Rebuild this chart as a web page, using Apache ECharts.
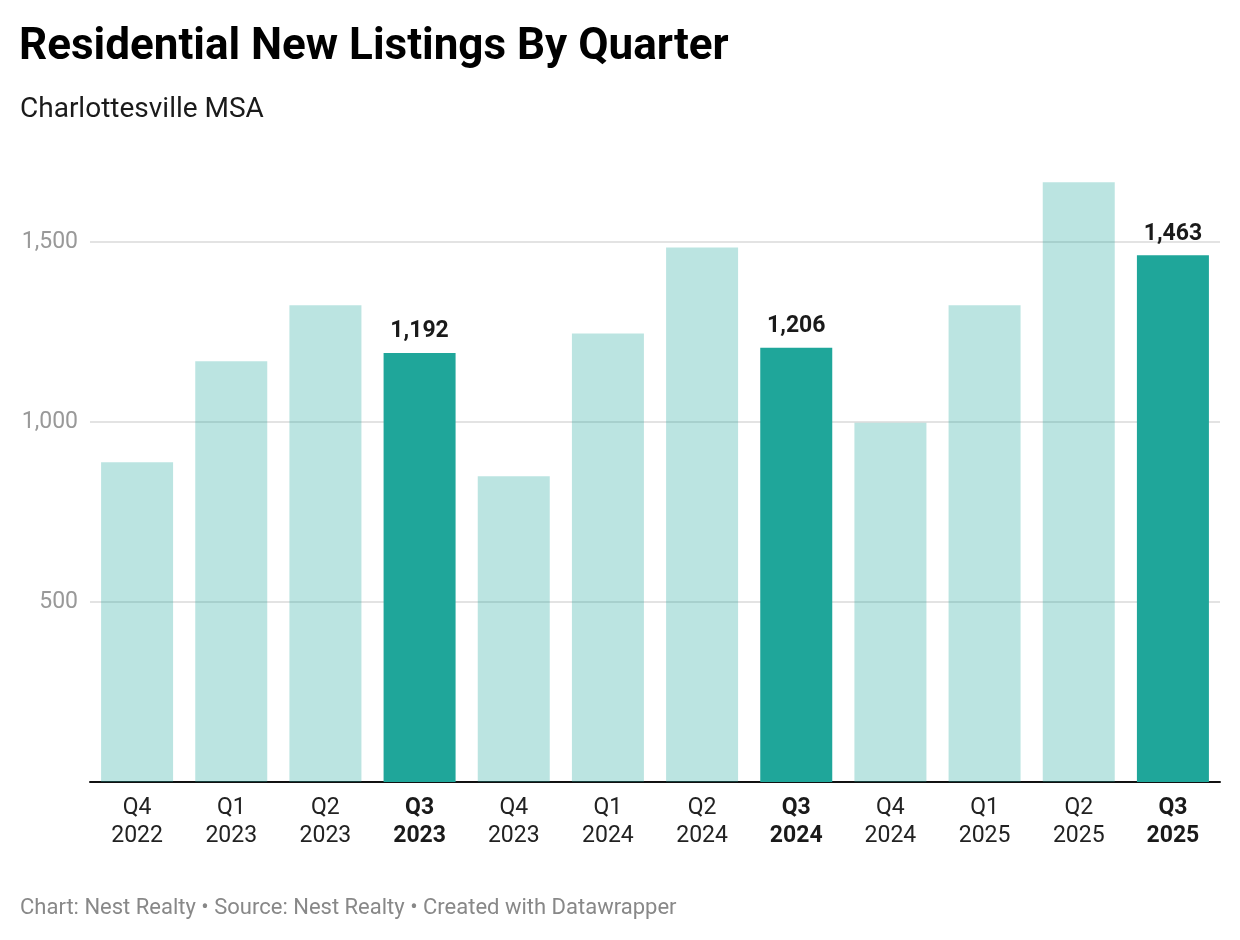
<!DOCTYPE html>
<html>
<head>
<meta charset="utf-8">
<script src="https://cdn.jsdelivr.net/npm/echarts@6/dist/echarts.min.js"></script>
<style>
  html, body { margin: 0; padding: 0; background: #fff; }
  #chart { width: 1240px; height: 940px; }
</style>
</head>
<body>
<div id="chart"></div>
<script>
const quarters = ['Q4', 'Q1', 'Q2', 'Q3', 'Q4', 'Q1', 'Q2', 'Q3', 'Q4', 'Q1', 'Q2', 'Q3'];
const years = ['2022', '2023', '2023', '2023', '2023', '2024', '2024', '2024', '2024', '2025', '2025', '2025'];
const newListings = [888, 1169, 1324, 1192, 849, 1246, 1485, 1206, 998, 1324, 1666, 1463];
const highlighted = [false, false, false, true, false, false, false, true, false, false, false, true];
const yTicks = [500, 1000, 1500];

const categories = quarters.map((q, i) => q + '\n' + years[i]);
const TEAL = '#1fa69a';
const LIGHT = 'rgba(31,166,154,0.3)';
const FONT = 'Roboto, "Noto Sans", sans-serif';

const chart = echarts.init(document.getElementById('chart'), null, { renderer: 'canvas' });
chart.setOption({
  backgroundColor: '#ffffff',
  animation: false,
  textStyle: { fontFamily: FONT },
  title: [
    { text: 'Residential New Listings By Quarter', left: 19, top: 26, padding: 0,
      textStyle: { fontFamily: FONT, fontSize: 44, fontWeight: 'bold', color: '#000' } },
    { text: 'Charlottesville MSA', left: 20, top: 96, padding: 0,
      textStyle: { fontFamily: FONT, fontSize: 28, fontWeight: 'normal', color: '#1a1a1a' } },
    { text: 'Chart: Nest Realty \u2022 Source: Nest Realty \u2022 Created with Datawrapper', left: 20, top: 897, padding: 0,
      textStyle: { fontFamily: FONT, fontSize: 22, fontWeight: 'normal', color: '#888' } }
  ],
  grid: { left: 90, right: 20, top: 170, bottom: 158, containLabel: false },
  xAxis: {
    type: 'category',
    data: categories,
    axisLine: { lineStyle: { color: '#111', width: 2 } },
    axisTick: { show: false },
    axisLabel: {
      interval: 0,
      margin: 12,
      fontFamily: FONT,
      fontSize: 23,
      lineHeight: 28,
      color: '#222',
      formatter: function (v, idx) {
        const parts = v.split('\n');
        if (highlighted[idx]) return '{b|' + parts[0] + '}\n{b|' + parts[1] + '}';
        return '{n|' + parts[0] + '}\n{n|' + parts[1] + '}';
      },
      rich: {
        b: { fontFamily: FONT, fontSize: 23, lineHeight: 28, fontWeight: 'bold', color: '#1a1a1a' },
        n: { fontFamily: FONT, fontSize: 23, lineHeight: 28, color: '#222' }
      }
    }
  },
  yAxis: {
    type: 'value',
    min: 0,
    max: 1700,
    interval: 500,
    axisLine: { show: false },
    axisTick: { show: false },
    splitLine: { show: false },
    axisLabel: {
      margin: 12,
      fontFamily: FONT,
      fontSize: 23,
      color: '#999',
      formatter: function (v) {
        return yTicks.indexOf(v) >= 0 ? v.toLocaleString('en-US') : '';
      }
    }
  },
  series: [{
    type: 'bar',
    barWidth: 72,
    data: newListings.map((v, i) => ({
      value: v,
      itemStyle: { color: highlighted[i] ? TEAL : LIGHT },
      label: {
        show: highlighted[i],
        position: 'top',
        distance: 10,
        fontFamily: FONT,
        fontSize: 23,
        fontWeight: 'bold',
        color: '#1a1a1a',
        formatter: function (p) { return p.value.toLocaleString('en-US'); }
      }
    })),
    markLine: {
      silent: true,
      symbol: 'none',
      label: { show: false },
      lineStyle: { color: '#e3e3e3', width: 2, type: 'solid' },
      data: yTicks.map(t => ({ yAxis: t })),
      z: 1
    },
    z: 2
  }]
});
</script>
</body>
</html>
